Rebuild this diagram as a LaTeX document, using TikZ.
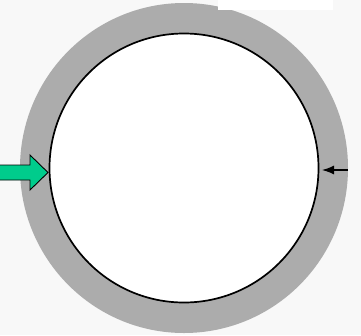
\documentclass[tikz,border=0pt]{standalone}
\usetikzlibrary{arrows.meta}
\definecolor{ringgray}{RGB}{172,172,172}
\definecolor{arrowgreen}{RGB}{0,204,140}
\definecolor{paper}{RGB}{248,248,248}

\begin{document}
\begin{tikzpicture}[x=1pt, y=-1pt,
	ring/.style={fill=ringgray},
	wall/.style={draw=black, fill=white, circle, line width=1.7pt, inner sep=0pt, minimum size=269pt}]
	\useasboundingbox[fill=paper] (0,0) rectangle (361,335);
	% gray layer and the inner cell
	\fill[ring] (184,168) ellipse (164 and 165);
	\fill[white] (218,0) rectangle (333,10);
	\node[wall] (cell) at (184,168) {};
	% green arrow pointing at the left wall
	\coordinate (push) at (48,172.5);
	\draw[fill=arrowgreen, line width=0.9pt, line join=miter]
		(0,165) -- (30,165) -- (30,155) -- (push) -- (30,190) -- (30,180) -- (0,180);
	% small black arrow on the right
	\coordinate (tail) at (348,170);
	\coordinate (tip) at (322,170);
	\draw[-{Latex[length=12pt,width=9pt]}, line width=1.3pt] (tail) -- (tip);
\end{tikzpicture}
\end{document}
